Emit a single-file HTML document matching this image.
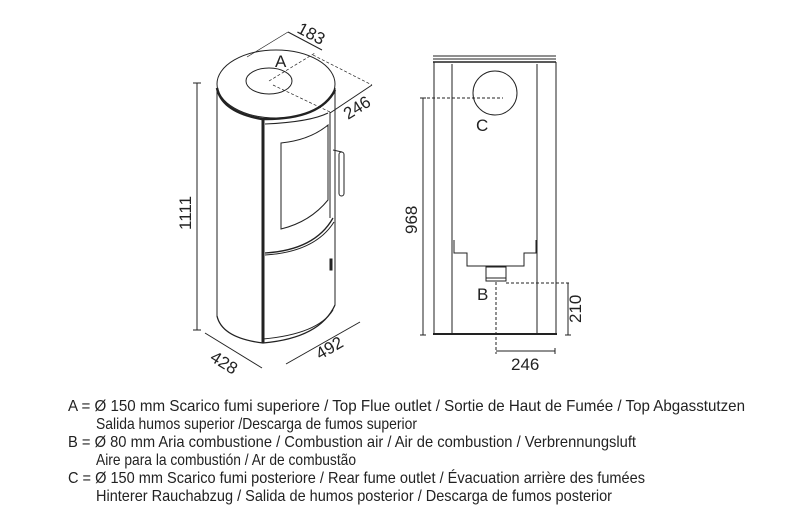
<!DOCTYPE html>
<html><head><meta charset="utf-8"><style>
html,body{margin:0;padding:0;background:#fff;}
svg{display:block;font-family:"Liberation Sans",sans-serif;}
</style></head><body>
<svg width="790" height="520" viewBox="0 0 790 520" xmlns="http://www.w3.org/2000/svg">
<g fill="none" stroke="#222" stroke-width="1">
<line x1="217" y1="88" x2="217" y2="316"/>
<line x1="335" y1="88" x2="335" y2="305"/>
<path d="M217,316 Q222,338 263,343 Q320,338 335,305" stroke-width="1.3"/>
<path d="M263,339 Q318,334 333,310"/>
<ellipse cx="276" cy="84" rx="59" ry="34" fill="#fff"/>
<path d="M217,88 Q222,112 262,119 Q320,120 335,90" stroke-width="2.5"/>
<ellipse cx="269" cy="81" rx="23" ry="13"/>
<line x1="263" y1="119" x2="263" y2="343" stroke-width="3"/>
<path d="M265,124 Q310,122 328,113"/>
<line x1="330" y1="112" x2="330" y2="218"/>
<path d="M281,143 Q310,140 328,125 L328,200 Q310,222 281,229 Z"/>
<path d="M265,253 Q315,250 333,218" stroke-width="1.3"/>
<path d="M265,255 Q315,252 334,222"/>
<rect x="339" y="152" width="5" height="44" rx="2.5"/>
<path d="M333,150 L342,152"/>
<rect x="330" y="259" width="2" height="11" fill="#222"/>
<line x1="197" y1="83" x2="197" y2="330"/>
<line x1="193" y1="83" x2="201" y2="83"/>
<line x1="193" y1="330" x2="201" y2="330"/>
<line x1="205" y1="333" x2="262" y2="368"/>
<line x1="286" y1="364" x2="360" y2="322"/>
<line x1="247" y1="57" x2="288" y2="32" stroke-width="0.7"/>
<line x1="288" y1="32" x2="322" y2="50"/>
<line x1="269" y1="81" x2="315" y2="53" stroke-dasharray="3,2" stroke-width="0.7"/>
<line x1="273" y1="85" x2="330" y2="112" stroke-dasharray="3,2" stroke-width="0.7"/>
<line x1="313" y1="55" x2="372" y2="85" stroke-dasharray="3,2" stroke-width="0.7"/>
<line x1="372" y1="85" x2="330" y2="113"/>

<line x1="433" y1="56" x2="556" y2="56"/>
<line x1="433" y1="59" x2="556" y2="59"/>
<line x1="433" y1="62" x2="556" y2="62" stroke-width="1.5"/>
<line x1="434" y1="62" x2="434" y2="334"/>
<line x1="556" y1="62" x2="556" y2="334"/>
<line x1="452" y1="64" x2="452" y2="334"/>
<line x1="537" y1="64" x2="537" y2="334"/>
<line x1="433" y1="334" x2="557" y2="334" stroke-width="2"/>
<circle cx="495" cy="93" r="22"/>
<line x1="427" y1="98" x2="503" y2="98" stroke-dasharray="3,2"/>
<line x1="423" y1="98" x2="423" y2="335"/>
<line x1="420" y1="98" x2="426" y2="98"/>
<line x1="420" y1="335" x2="426" y2="335"/>
<path d="M454,240 L454,253 L467,253 L467,266 L524,266 L524,253 L536,253 L536,240"/>
<rect x="486" y="267" width="20" height="14"/>
<line x1="486" y1="278" x2="506" y2="278"/>
<line x1="496" y1="282" x2="496" y2="354" stroke-dasharray="3,2"/>
<line x1="506" y1="283" x2="571" y2="283" stroke-dasharray="3,2"/>
<line x1="568" y1="283" x2="568" y2="335"/>
<line x1="565" y1="335" x2="571" y2="335"/>
<line x1="496" y1="351" x2="555" y2="351"/>
<line x1="555" y1="348" x2="555" y2="354"/>
</g>
<g fill="#222" font-size="17">
<text x="275" y="67">A</text>
<text x="476" y="131">C</text>
<text x="477" y="300">B</text>
<text x="511" y="370">246</text>
<text transform="translate(191,230) rotate(-90)">1111</text>
<text transform="translate(417,234) rotate(-90)">968</text>
<text transform="translate(581,323) rotate(-90)">210</text>
<text transform="translate(296,32) rotate(28)">183</text>
<text transform="translate(348,120) rotate(-32)">246</text>
<text transform="translate(209,360) rotate(32)">428</text>
<text transform="translate(320,360) rotate(-30)">492</text>
</g>
<g fill="#222" font-size="16">
<text x="68" y="411" textLength="677" lengthAdjust="spacingAndGlyphs">A = Ø 150 mm  Scarico fumi superiore / Top Flue outlet / Sortie de Haut de Fumée / Top Abgasstutzen</text>
<text x="96" y="429" textLength="321" lengthAdjust="spacingAndGlyphs">Salida humos superior /Descarga de fumos superior</text>
<text x="68" y="447" textLength="568" lengthAdjust="spacingAndGlyphs">B = Ø 80 mm  Aria combustione / Combustion air / Air de combustion / Verbrennungsluft</text>
<text x="96" y="465" textLength="260" lengthAdjust="spacingAndGlyphs">Aire para la combustión / Ar de combustão</text>
<text x="68" y="483" textLength="577" lengthAdjust="spacingAndGlyphs">C = Ø 150 mm  Scarico fumi posteriore / Rear fume outlet / Évacuation arrière des fumées</text>
<text x="96" y="501" textLength="516" lengthAdjust="spacingAndGlyphs">Hinterer Rauchabzug / Salida de humos posterior / Descarga de fumos posterior</text>
</g>
</svg>
</body></html>
